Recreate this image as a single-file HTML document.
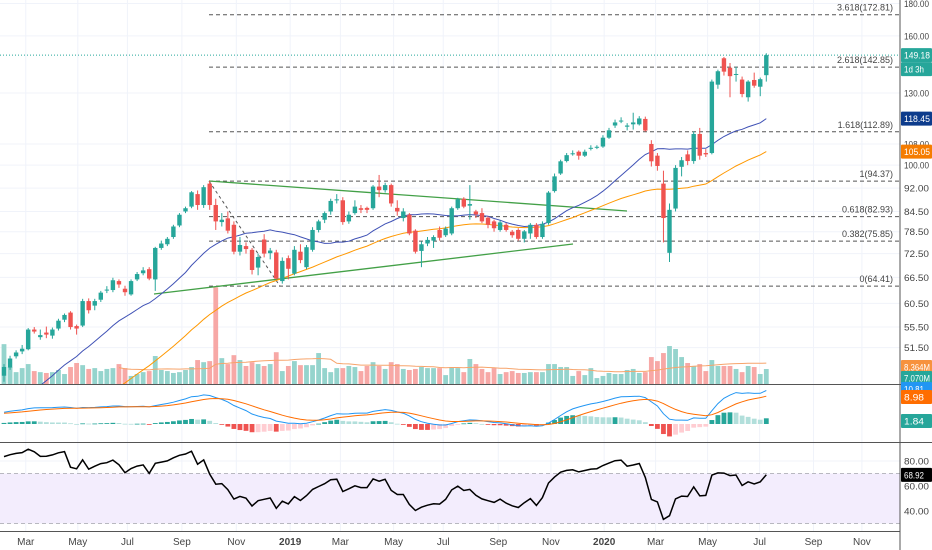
<!DOCTYPE html>
<html><head><meta charset="utf-8"><style>
html,body{margin:0;padding:0;background:#fff;}
svg{display:block;font-family:"Liberation Sans",sans-serif;}
</style></head><body>
<svg id="chart" width="932" height="550" viewBox="0 0 932 550" xmlns="http://www.w3.org/2000/svg">
<defs>
<clipPath id="clipMain"><rect x="0" y="0" width="900" height="384"/></clipPath>
<clipPath id="clipMacd"><rect x="0" y="385" width="900" height="57"/></clipPath>
<clipPath id="clipRsi"><rect x="0" y="443" width="900" height="88"/></clipPath>
</defs>
<rect x="0" y="0" width="932" height="550" fill="#fff"/>
<g id="grid"></g>
<g id="rsiBand"></g>
<g id="vol" clip-path="url(#clipMain)"></g>
<g id="draw" clip-path="url(#clipMain)"></g>
<g id="ma" clip-path="url(#clipMain)"></g>
<g id="candles" clip-path="url(#clipMain)"></g>
<g id="macd" clip-path="url(#clipMacd)"></g>
<g id="rsi" clip-path="url(#clipRsi)"></g>
<g id="axes"></g>
</svg>
<script>
const priorCloses=[20,20.8,21.5,21.1,22.2,23,22.6,23.5,24.3,23.8,24.8,25.6,25.1,26,26.9,26.4,27.3,28.2,27.7,28.6,29.5,29,30,31,30.5,31.5,32.4,31.9,33,34,33.4,34.5,35.5,35,36.2,37.2,36.6,37.8,38.8,38.2,39.5,40.5,39.8,41,42.2,41.5,42.8,44,43.4,45];
const candles=[[46.5,48,48.5,45.5],[47.9,49.5,50,47.5],[49.9,50.6,51,49.5],[50.8,51.3,52,50.3],[51.2,55,55.3,51],[55,54.6,55.5,54.2],[53.5,53.9,55,53],[54.4,54,55.6,53.3],[53.8,55,55.4,53.2],[55.2,56.8,57.2,54.8],
[57,58,58.3,56.5],[58.5,55.5,58.8,55],[55.7,55.2,56,54],[55.8,61,61.5,55.5],[61,59,61.6,58.3],[60,61,61.5,59],[61.3,62.9,63.3,60.8],[63.4,63.6,64.4,62.8],[63.5,65.8,66.4,63],[65.6,64.8,66,64],
[63.8,63,64.5,62.2],[62.5,65.6,66,62.2],[66,67.3,67.8,65.6],[67.5,68.2,69,67],[68.5,66.2,69,65.8],[66,74,74.3,63.3],[74,75.2,76,73.5],[75,76.5,77,74.5],[77,80,80.5,76.5],[80.3,83.5,84,79.8],
[84.5,85.5,86,84],[86,90.6,91,85.5],[90,86.5,91.2,85],[86.5,92.3,93,85.6],[93.5,86.5,94.4,85],[86.5,81.5,88.5,79],[81.3,82,84,80],[82.4,78.8,84.5,78],[80.5,73,81.5,72.3],[73,74.8,77,72],
[74.5,73.7,75.5,72.5],[73.5,68.3,74,67.2],[68.9,71.6,72.5,67],[76.3,72.5,77.8,71.5],[72.6,73.3,74,71],[72.8,66.2,73.5,66],[65.6,70.6,71.5,65],[71.3,68.6,72,66],[67.4,73.5,74.5,67],[73,70.8,75,70],
[69,74.2,74.8,68.5],[73.5,79,79.8,73],[79,81.5,82,78.3],[82,84,84.5,81],[84.5,87.8,88.5,83.5],[88,88.3,90,87],[88,81.3,89,80.5],[81.5,83.5,84.5,80.8],[84,86,88,83.5],[85.5,85,86.5,84],
[85.6,85,86,84],[85.5,92.5,93,85],[92.5,91.3,96.5,89],[91.3,93,93.8,90.5],[93,87,93.5,86],[85.6,84.5,88,83.2],[82.5,84.5,85.5,81.5],[83.5,78,84,77.5],[78.8,73,79.2,72.5],[73.2,75,75.8,69],
[75.2,76.2,77,74.5],[76,77,77.5,74],[79,76.8,80,76],[77.5,79.4,80,77],[78,85.5,86,77.5],[85.5,88.3,88.8,85],[88.5,86,89,85.5],[86.3,86.8,93,82],[84.5,83.6,85,82.5],[84,81.5,85.5,81],
[82.6,80.5,83,79.5],[81.5,79.5,82,78.5],[79,81.2,81.8,78.5],[80.5,79,81,78.5],[78.5,77.5,79,76.8],[79,76.5,79.5,76],[76.5,78.6,79,75.5],[78,80.5,81,76.5],[80.5,77,81,76.5],[77,80.8,81.5,76.5],
[81,90.5,91,80.5],[91,96,97,90.5],[97,101.4,102,96.5],[101.5,103.7,104.5,101],[104.3,104.4,105.5,103.5],[105,103.5,105.5,102],[103.5,105,105.8,103],[106.2,106.5,107.5,105.5],[106.8,106.9,107.5,106],[107,110.5,111.5,106.5],
[110.5,113.5,114.5,110],[115.5,116.8,118,114.5],[117.3,117.6,119,116.5],[115,115.5,116.5,113.5],[116,116.8,121,113.8],[116,118.5,119.5,115.5],[118.3,113.4,119.3,113],[108,101.4,109.5,99.5],[103.5,99.7,104.5,98],[93.5,82.5,98,75.5],
[72.7,85,87,70.3],[85.4,99,100,84.5],[99.4,101.8,103,96],[104,101.5,105.5,100],[101.5,112,113,100.5],[112,103.5,114.5,102],[104.5,104,106,103],[104.5,135.5,136.5,104],[134,140.7,141.5,132],[147.5,140.5,148.2,138.5],
[142.5,138.2,145,128],[139,139.3,143,135.5],[136.5,129.5,138,128],[128,135.5,136.2,126],[136.3,133.5,140,132.5],[133,136.7,137.5,128.5],[138.7,149.18,150.2,135.5]];
const volumeM=[18.8,8.0,5.6,7.5,9.4,6.1,5.6,5.2,5.6,6.6, 4.7,8.0,9.9,8.9,7.1,7.5,6.1,7.1,7.5,9.4, 7.5,3.8,4.7,5.6,6.1,13.2,6.6,6.1,5.2,5.6, 6.6,8.0,11.3,10.3,10.8,45.6,12.2,9.4,13.6,11.3,
8.5,10.3,9.4,8.5,9.4,15.0,6.1,8.5,10.8,8.9, 8.9,8.9,14.6,7.5,5.6,7.5,7.5,8.5,8.0,6.1, 8.5,10.3,8.5,7.1,10.3,9.4,7.1,6.6,7.1,8.0, 7.5,7.5,7.5,4.2,8.0,7.5,5.6,11.8,9.4,7.1,
5.6,7.5,4.7,5.6,6.1,5.2,5.2,5.6,5.6,5.6, 9.4,9.4,8.0,8.0,3.8,6.1,4.2,7.5,2.8,3.8, 5.2,4.7,4.7,6.6,7.1,5.2,5.6,12.7,10.8,14.6, 17.9,16.5,12.7,9.9,8.5,9.4,6.1,11.3,8.5,8.5, 8.5,7.1,5.6,8.5,8.0,4.7,7.07];
const priceTicks=[180,160,130,108,100,92,84.5,78.5,72.5,66.5,60.5,55.5,51.5];
const fibLevels=[3.618,2.618,1.618,1,0.618,0.382,0];
const fibPrices=[172.81,142.85,112.89,94.37,82.93,75.85,64.41];
const monthLabels=["Mar","May","Jul","Sep","Nov","2019","Mar","May","Jul","Sep","Nov","2020","Mar","May","Jul","Sep","Nov"];
const monthWeek=[3.6,12.2,20.4,29.4,38.4,47.3,55.6,64.4,72.6,81.7,90.4,99.2,107.7,116.3,124.9,133.8,141.8];
const rsiTicks=[80,60,40];

const NS="http://www.w3.org/2000/svg";
const PW=900;
function el(t,a,p){const e=document.createElementNS(NS,t);for(const k in a)e.setAttribute(k,a[k]);p.appendChild(e);return e;}
const xi=i=>4+i*6.05;
const yP=p=>3.5+(Math.log(180)-Math.log(p))*275;
const volBase=384, yV=v=>volBase-v*2.12;
const macdZero=424, yM=v=>macdZero-v*3.1;
const yR=r=>473.5-(r-70)*1.25;
const G=id=>document.getElementById(id);
const GREEN="#26a69a",RED="#ef5350";

const grid=G('grid');
priceTicks.forEach(p=>{const l=el('line',{x1:0,x2:PW,y1:yP(p),y2:yP(p),stroke:'#f0f3fa'},grid);});
monthWeek.forEach(w=>{const l=el('line',{x1:xi(w),x2:xi(w),y1:0,y2:531,stroke:'#f0f3fa'},grid);});
rsiTicks.forEach(r=>{const l=el('line',{x1:0,x2:PW,y1:yR(r),y2:yR(r),stroke:'#f0f3fa'},grid);});

const rb=G('rsiBand');
let r0=el('rect',{x:0,y:yR(70),width:PW,height:yR(30)-yR(70),fill:'#f3edfd'},rb);

[70,30].forEach(v=>{const l=el('line',{x1:0,x2:PW,y1:yR(v),y2:yR(v),stroke:'#b8b8c0','stroke-dasharray':'4 3'},rb);});

const vg=G('vol');
candles.forEach((c,i)=>{const v=volumeM[i];const r=el('rect',{x:xi(i)-2.4,y:yV(v),width:4.8,height:volBase-yV(v),fill:c[1]>=c[0]?'#95d4cd':'#f7a8a6'},vg);
});
function sma(a,n){return a.map((_,i)=>{if(i<n-1)return null;let s=0;for(let j=i-n+1;j<=i;j++)s+=a[j];return s/n;});}
function poly(vals,yf,col,name,parent,w){let d='';vals.forEach((v,i)=>{if(v==null)return;d+=(d?'L':'M')+xi(i).toFixed(1)+','+yf(v).toFixed(1);});
const p=el('path',{d:d,fill:'none',stroke:col,'stroke-width':w||1},parent);return p;}
poly(sma(volumeM,20),yV,'#f7a46b','volume-ma-line',vg);

const dg=G('draw');
fibPrices.forEach((p,i)=>{const y=yP(p);const l=el('line',{x1:209,x2:PW,y1:y,y2:y,stroke:'#555','stroke-dasharray':'4 3'},dg);

const t=el('text',{x:893,y:y-4,'text-anchor':'end','font-size':9,fill:'#444'},dg);t.textContent=fibLevels[i]+'('+p.toFixed(2)+')';
});
let dl=el('line',{x1:209,y1:yP(94.37),x2:280,y2:yP(64.41),stroke:'#555','stroke-dasharray':'3 3'},dg);
let t1=el('line',{x1:209,y1:181,x2:627,y2:211,stroke:'#43a047','stroke-width':1.3},dg);
let t2=el('line',{x1:154,y1:294,x2:573,y2:244,stroke:'#43a047','stroke-width':1.3},dg);
const lastC=candles[candles.length-1][1];
let pl=el('line',{x1:0,x2:PW,y1:yP(lastC),y2:yP(lastC),stroke:GREEN,'stroke-dasharray':'1 2'},dg);

const closes=candles.map(c=>c[1]);
const NP=priorCloses.length;
const allCloses=priorCloses.concat(closes);
const mg=G('ma');
const sma20=sma(allCloses,20).slice(NP), sma50=sma(allCloses,50).slice(NP);
poly(sma20,yP,'#3f51b5','sma20-line',mg);
poly(sma50,yP,'#ff9800','sma50-line',mg);

const cg=G('candles');
candles.forEach((c,i)=>{const [o,cl,h,l]=c;const col=cl>=o?GREEN:RED;const x=xi(i);
const w=el('line',{x1:x,x2:x,y1:yP(h),y2:yP(l),stroke:col},cg);
const top=Math.min(yP(o),yP(cl)),bh=Math.max(1,Math.abs(yP(o)-yP(cl)));
const b=el('rect',{x:x-2.2,y:top,width:4.4,height:bh,fill:col},cg);});

function ema(a,n){const k=2/(n+1);let e=a[0];return a.map(v=>(e=v*k+e*(1-k)));}
const e12=ema(allCloses,12),e26=ema(allCloses,26);
const macdAll=e12.map((v,i)=>v-e26[i]);
const sigAll=ema(macdAll,9);
const macdLine=macdAll.slice(NP), signal=sigAll.slice(NP);
const hist=macdLine.map((v,i)=>v-signal[i]);
const mp=G('macd');
hist.forEach((h,i)=>{const prev=i?hist[i-1]:0;let col=h>=0?(h>=prev?GREEN:'#b2dfdb'):(h<prev?RED:'#ffcdd2');
const y1=Math.min(yM(h),macdZero),hh=Math.max(0.8,Math.abs(yM(h)-macdZero));
const r=el('rect',{x:xi(i)-2.4,y:y1,width:4.8,height:hh,fill:col},mp);});
poly(macdLine,yM,'#2196f3','macd-line',mp);
poly(signal,yM,'#ff6d00','signal-line',mp);

function rsiCalc(a,n){let ag=0,al=0;const out=[null];for(let i=1;i<a.length;i++){const d=a[i]-a[i-1];const g=Math.max(d,0),l=Math.max(-d,0);
if(i<=n){ag=(ag*(i-1)+g)/i;al=(al*(i-1)+l)/i;}else{ag=(ag*(n-1)+g)/n;al=(al*(n-1)+l)/n;}out.push(al===0?100:100-100/(1+ag/al));}return out;}
const rsiVals=rsiCalc(allCloses,14).slice(NP);
poly(rsiVals,yR,'#000','rsi-line',G('rsi'),1.5);

const ax=G('axes');
function ln(a,n){const l=el('line',a,ax);}
ln({x1:PW,x2:PW,y1:0,y2:550,stroke:'#555'},'price-axis-border');
ln({x1:0,x2:932,y1:384.5,y2:384.5,stroke:'#555'},'pane-separator-main');
ln({x1:0,x2:932,y1:442.5,y2:442.5,stroke:'#555'},'pane-separator-macd');
ln({x1:0,x2:PW,y1:531.5,y2:531.5,stroke:'#555'},'time-axis-border');
function txt(x,y,s,name,opt){const t=el('text',Object.assign({x:x,y:y,'font-size':9,fill:'#444'},opt||{}),ax);t.textContent=s;return t;}
priceTicks.forEach(p=>txt(904,yP(p)+3.5,p.toFixed(2),'price-tick-label',{textLength:25,lengthAdjust:'spacingAndGlyphs'}));
rsiTicks.forEach(r=>txt(904,yR(r)+3.5,r.toFixed(2),'rsi-tick-label',{textLength:25,lengthAdjust:'spacingAndGlyphs'}));
monthLabels.forEach((m,i)=>txt(xi(monthWeek[i]),545,m,'time-tick-label',{'text-anchor':'middle','font-size':10,'font-weight':m.length===4?'bold':'normal'}));
function badge(y,s,bg,name,fg){const r=el('rect',{x:901,y:y-7,width:31,height:14,fill:bg,rx:1},ax);
txt(904,y+3.5,s,name,{fill:fg||'#fff',textLength:s.length>5?26:20,lengthAdjust:'spacingAndGlyphs'});}
badge(yP(lastC),lastC.toFixed(2),GREEN,'last-price-label');
badge(yP(lastC)+14,'1d 3h',GREEN,'countdown-label');
badge(yP(sma20[sma20.length-1]),sma20[sma20.length-1].toFixed(2),'#0d3c8c','sma20-label');
badge(yP(sma50[sma50.length-1]),sma50[sma50.length-1].toFixed(2),'#f57c00','sma50-label');
badge(367,'8.364M','#f7923d','volume-ma-label');
badge(378,volumeM[volumeM.length-1].toFixed(3)+'M',GREEN,'volume-label');
badge(389,macdLine[macdLine.length-1].toFixed(2),'#2196f3','macd-label');
badge(397,signal[signal.length-1].toFixed(2),'#ff6d00','signal-label');
badge(421,hist[hist.length-1].toFixed(2),GREEN,'histogram-label');
badge(yR(rsiVals[rsiVals.length-1]),rsiVals[rsiVals.length-1].toFixed(2),'#000','rsi-label');
</script>
</body></html>
